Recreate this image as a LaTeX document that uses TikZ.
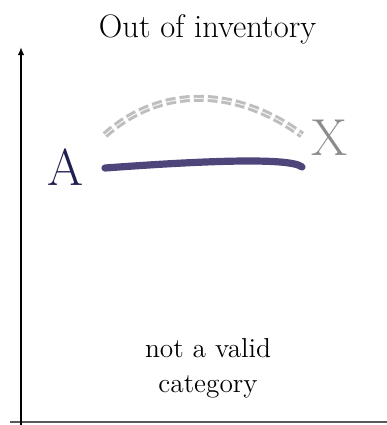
\documentclass[tikz,border=0pt]{standalone}
\usepackage{amsmath}
\usetikzlibrary{positioning, arrows.meta, calc}

\definecolor{anavy}{RGB}{30,30,82}
\definecolor{solidpurple}{RGB}{78,70,122}
\definecolor{xgray}{RGB}{140,140,140}
\definecolor{dashgray}{RGB}{190,190,190}
\definecolor{basegray}{RGB}{90,90,90}

\begin{document}
\begin{tikzpicture}[
    x=0.5pt, y=-0.5pt,
    titletxt/.style={anchor=base, inner sep=0pt, font=\fontsize{16.3}{20}\selectfont},
    bigtxt/.style={anchor=base, inner sep=0pt, font=\fontsize{26}{30}\selectfont},
    notetxt/.style={align=center, inner sep=0pt, font=\fontsize{13.7}{17.5}\selectfont},
    axisarrow/.style={-{Latex[length=4pt,width=3.2pt]}, line width=1pt, black},
    baseline/.style={line width=1pt, basegray},
    solidcurve/.style={line width=3.6pt, line cap=round, solidpurple},
    dashcurve/.style={line width=3.5pt, dashgray, dash pattern=on 5pt off 2pt},
    dashinner/.style={line width=0.5pt, white!85!dashgray, dash pattern=on 5pt off 2pt}
]

\useasboundingbox (0,0) rectangle (387,425);

% Axes
\coordinate (ybot) at (21,425);
\coordinate (ytop) at (21,47);
\coordinate (xleft) at (10,422);
\coordinate (xright) at (387,422);
\draw[baseline] (xleft) -- (xright);
\draw[axisarrow] (ybot) -- (ytop);

% Title
\node[titletxt] (title) at (207.5,37) {Out of inventory};

% Labels
\node[bigtxt, text=anavy] (A) at (65.5,185) {A};
\node[bigtxt, text=xgray] (X) at (330,155) {X};

% Curves
\coordinate (s1) at (105,168);
\coordinate (s2) at (302,167);
\coordinate (d1) at (105,135);
\coordinate (d2) at (302,135);
\draw[dashcurve] (d1) .. controls (160,86) and (235,86) .. (d2);
\draw[dashinner] (d1) .. controls (160,86) and (235,86) .. (d2);
\draw[solidcurve] (s1) .. controls (200,161) and (290,157) .. (s2);

% Note
\node[notetxt] (note) at (208,368.5) {not a valid\\category};

\end{tikzpicture}
\end{document}
